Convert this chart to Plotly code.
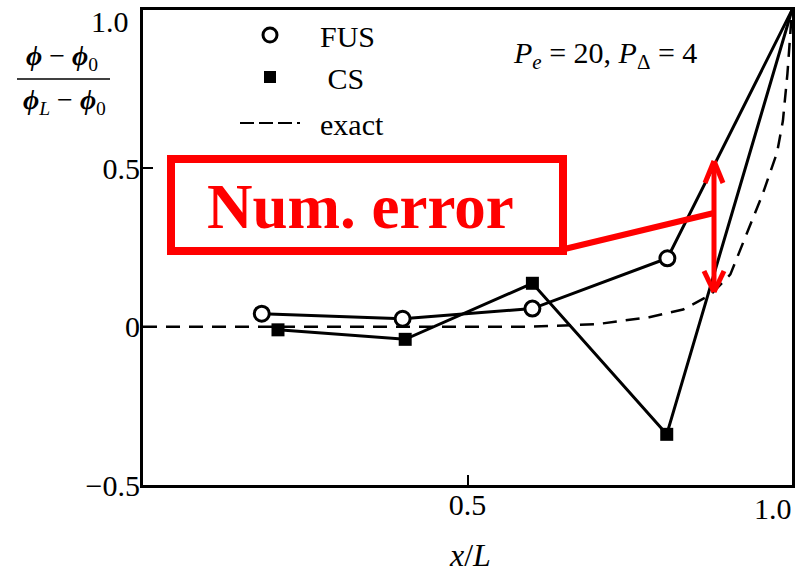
import plotly.graph_objects as go

# ---- data ----
fus_x = [0.183, 0.400, 0.600, 0.808, 1.0]
fus_y = [0.041, 0.025, 0.057, 0.216, 1.0]

cs_x = [0.208, 0.404, 0.600, 0.807, 1.0]
cs_y = [-0.010, -0.040, 0.137, -0.340, 1.0]

exact_x = [0.0, 0.60, 0.70, 0.78, 0.832, 0.874, 0.905, 0.930, 0.955, 0.977, 0.986, 0.993, 1.0]
exact_y = [0.0, 0.0, 0.008, 0.030, 0.054, 0.100, 0.165, 0.290, 0.420, 0.550, 0.650, 0.800, 1.0]

x_ticks = [0.5]
x_ticklabels = ["0.5"]
y_ticks = [-0.5, 0.0, 0.5]
y_ticklabels = ["\u22120.5", "0", "0.5"]
end_label = "1.0"

W, H = 798, 574
L, R, T, B = 143, 6, 10, 89
PW, PH = W - L - R, H - T - B


def X(px):
    return (px - L) / PW


def Y(py):
    return (H - B - py) / PH


SERIF = "Liberation Serif, Times New Roman, serif"
NB = "\u00a0"

# boundary node (x = 1) is drawn without a symbol in the reference
fus_sizes = [15 if x < 1 else 0 for x in fus_x]
cs_sizes = [13 if x < 1 else 0 for x in cs_x]

fig = go.Figure()

fig.add_trace(go.Scatter(x=exact_x, y=exact_y, mode="lines",
                         line=dict(color="black", width=2.5, dash="14px,9px"),
                         showlegend=False, cliponaxis=False))
fig.add_trace(go.Scatter(x=fus_x, y=fus_y, mode="lines+markers",
                         line=dict(color="black", width=3),
                         marker=dict(symbol="circle", size=fus_sizes, color="white", opacity=1,
                                     line=dict(color="black", width=3)),
                         showlegend=False, cliponaxis=False))
fig.add_trace(go.Scatter(x=cs_x, y=cs_y, mode="lines+markers",
                         line=dict(color="black", width=3),
                         marker=dict(symbol="square", size=cs_sizes, color="black", opacity=1,
                                     line=dict(width=0)),
                         showlegend=False, cliponaxis=False))

# legend proxies
fig.add_trace(go.Scatter(x=[None], y=[None], mode="markers", name=NB * 2 + "FUS", legendgroup="g1",
                         marker=dict(symbol="circle", size=14, color="white",
                                     line=dict(color="black", width=3))))
fig.add_trace(go.Scatter(x=[None], y=[None], mode="markers", name=NB * 3 + "CS", legendgroup="g1",
                         marker=dict(symbol="square", size=12, color="black")))
fig.add_trace(go.Scatter(x=[None], y=[None], mode="lines", name=NB * 2 + "exact", legendgroup="g2",
                         line=dict(color="black", width=2, dash="14px,5px")))

shapes = []
red = "#ff0000"
shapes.append(dict(type="rect", xref="paper", yref="paper",
                   x0=X(171), x1=X(563), y0=Y(251), y1=Y(159),
                   line=dict(color=red, width=8)))
shapes.append(dict(type="line", xref="paper", yref="paper",
                   x0=X(552), y0=Y(252), x1=X(714), y1=Y(213),
                   line=dict(color=red, width=6)))
shapes.append(dict(type="line", xref="paper", yref="paper",
                   x0=X(714), y0=Y(161), x1=X(714), y1=Y(292),
                   line=dict(color=red, width=5)))
for (ax, ay), (bx, by) in [((705, 183), (714, 161)), ((723, 183), (714, 161)),
                           ((704, 271), (714, 292)), ((724, 271), (714, 292))]:
    shapes.append(dict(type="line", xref="paper", yref="paper",
                       x0=X(ax), y0=Y(ay), x1=X(bx), y1=Y(by),
                       line=dict(color=red, width=5)))
shapes.append(dict(type="line", xref="paper", yref="paper",
                   x0=X(17), x1=X(110), y0=Y(79), y1=Y(79),
                   line=dict(color="black", width=1.5)))


def ann(text, px, py, size, color="black", xanchor="center"):
    return dict(text=text, xref="paper", yref="paper", x=X(px), y=Y(py),
                xanchor=xanchor, yanchor="middle", showarrow=False,
                font=dict(family=SERIF, size=size, color=color))


annotations = [
    ann("<b>Num. error</b>", 360, 207, 63, red),
    ann("<i>P</i><sub><i>e</i></sub> = 20, <i>P</i><sub>\u0394</sub> = 4", 605, 55, 30),
    ann("<b><i>\u03d5</i></b> \u2212 <b><i>\u03d5</i></b><sub>0</sub>", 62, 57, 28),
    ann("<b><i>\u03d5</i></b><sub><i>L</i></sub> \u2212 <b><i>\u03d5</i></b><sub>0</sub>", 64, 101, 28),
    ann("<i>x</i>/<i>L</i>", 470, 555, 32),
    ann(end_label, 131, 21, 30, xanchor="right"),
    ann(end_label, 794, 508, 30, xanchor="right"),
]

fig.update_layout(
    width=W, height=H,
    margin=dict(l=L, r=R, t=T, b=B, autoexpand=False),
    paper_bgcolor="white", plot_bgcolor="white",
    font=dict(family=SERIF, size=30, color="black"),
    shapes=shapes, annotations=annotations,
    showlegend=True,
    legend=dict(x=X(235), y=Y(9), xanchor="left", yanchor="top",
                bgcolor="rgba(0,0,0,0)", font=dict(family=SERIF, size=30),
                itemwidth=60, tracegroupgap=4),
)
fig.update_xaxes(range=[0, 1], tickvals=x_ticks, ticktext=x_ticklabels,
                 showline=True, mirror=True, linecolor="black", linewidth=3,
                 ticks="inside", ticklen=10, tickwidth=2, tickcolor="black",
                 showgrid=False, zeroline=False, tickfont=dict(size=30),
                 ticklabelstandoff=-9)
fig.update_yaxes(range=[-0.5, 1.0], tickvals=y_ticks, ticktext=y_ticklabels,
                 showline=True, mirror=True, linecolor="black", linewidth=3,
                 ticks="inside", ticklen=10, tickwidth=2, tickcolor="black",
                 showgrid=False, zeroline=False, tickfont=dict(size=30),
                 ticklabelstandoff=-6)

fig.write_html("out.html", config={"displayModeBar": False},
               post_script="document.body.style.margin='0';document.body.style.overflow='hidden';")
